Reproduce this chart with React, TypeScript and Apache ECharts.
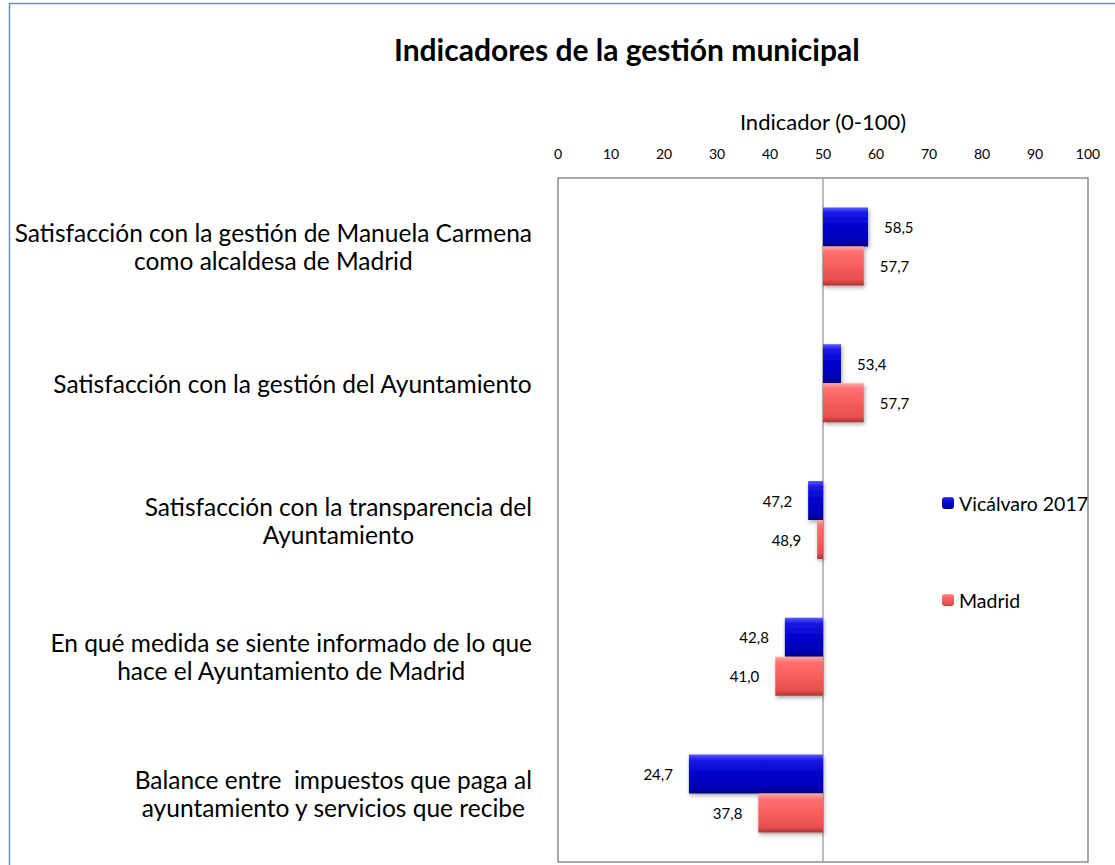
import React, { useEffect, useRef } from "react";
import * as echarts from "echarts";

const categories = [
  "Satisfacción con la gestión de Manuela Carmena\ncomo alcaldesa de Madrid",
  "Satisfacción con la gestión del Ayuntamiento",
  "Satisfacción con la transparencia del\nAyuntamiento",
  "En qué medida se siente informado de lo que\nhace el Ayuntamiento de Madrid",
  "Balance entre  impuestos que paga al\nayuntamiento y servicios que recibe",
];
const seriesNames = ["Vicálvaro 2017", "Madrid"];
const vicalvaro = [58.5, 53.4, 47.2, 42.8, 24.7];
const madrid = [57.7, 57.7, 48.9, 41.0, 37.8];
const baseline = 50;
const axisMin = 0;
const axisMax = 100;
const axisInterval = 10;

const FONT = "Lato";

const blueFill = new echarts.graphic.LinearGradient(0, 0, 0, 1, [
  { offset: 0, color: "#5a5aff" },
  { offset: 0.14, color: "#1a1ae8" },
  { offset: 0.5, color: "#0000cc" },
  { offset: 0.86, color: "#0000b4" },
  { offset: 1, color: "#00007a" },
]);
const redFill = new echarts.graphic.LinearGradient(0, 0, 0, 1, [
  { offset: 0, color: "#ffa8a8" },
  { offset: 0.14, color: "#ff7070" },
  { offset: 0.5, color: "#f85d5d" },
  { offset: 0.86, color: "#e84e4e" },
  { offset: 1, color: "#a83434" },
]);

const fmt = (v: number) => v.toFixed(1).replace(".", ",");

function buildSeries(name: string, values: number[], fill: any, stack: string, withMarkLine: boolean) {
  const base = values.map((v) => Math.min(v, baseline));
  const delta = values.map((v) => Math.abs(v - baseline));
  const baseSeries: any = {
    name: "_base_" + stack,
    type: "bar",
    stack,
    data: base,
    barWidth: 39,
    barGap: "0%",
    silent: true,
    itemStyle: { color: "rgba(0,0,0,0)" },
    label: { show: false },
    z: 1,
  };
  if (withMarkLine) {
    baseSeries.markLine = {
      silent: true,
      symbol: ["none", "none"],
      label: { show: false },
      lineStyle: { color: "#a6a6a6", width: 1.5, type: "solid" },
      data: [{ xAxis: baseline }],
      z: 1,
    };
  }
  const deltaSeries: any = {
    name,
    type: "bar",
    stack,
    barWidth: 39,
    barGap: "0%",
    z: 3,
    itemStyle: {
      color: fill,
      shadowBlur: 4,
      shadowColor: "rgba(0,0,0,0.35)",
      shadowOffsetY: 2,
      shadowOffsetX: 1,
    },
    data: delta.map((d, i) => ({
      value: d,
      label: {
        show: true,
        position: values[i] >= baseline ? "right" : "left",
        distance: 16,
        formatter: () => fmt(values[i]),
        fontFamily: FONT,
        fontSize: 15,
        color: "#000",
      },
    })),
  };
  return [baseSeries, deltaSeries];
}

export default function App() {
  const ref = useRef<HTMLDivElement>(null);
  useEffect(() => {
    if (!ref.current) return;
    const chart = echarts.init(ref.current, null, { renderer: "svg" });
    const option: any = {
      animation: false,
      backgroundColor: "#ffffff",
      textStyle: { fontFamily: FONT },
      title: {
        text: "Indicadores de la gestión municipal",
        left: 389,
        top: 29,
        textStyle: { fontFamily: FONT, fontSize: 30, fontWeight: "bold", color: "#000" },
      },
      graphic: [
        {
          type: "rect",
          left: 7,
          top: 1,
          shape: { width: 1200, height: 1000 },
          style: { fill: "none", stroke: "#6f8fc4", lineWidth: 1.5 },
          silent: true,
          z: -1,
        },
      ],
      legend: {
        orient: "vertical",
        left: 937,
        top: 488,
        itemWidth: 12,
        itemHeight: 12,
        itemGap: 77,
        data: seriesNames,
        textStyle: { fontFamily: FONT, fontSize: 19.5, color: "#000" },
      },
      grid: {
        left: 558,
        right: 27,
        top: 178,
        bottom: 3,
        show: true,
        borderColor: "#8c8c8c",
        borderWidth: 1.5,
        containLabel: false,
      },
      xAxis: {
        type: "value",
        position: "top",
        min: axisMin,
        max: axisMax,
        interval: axisInterval,
        name: "Indicador (0-100)",
        nameLocation: "middle",
        nameGap: 46,
        nameTextStyle: { fontFamily: FONT, fontSize: 22, color: "#000" },
        axisLine: { show: false },
        axisTick: { show: false },
        splitLine: { show: false },
        axisLabel: { fontFamily: FONT, fontSize: 14, color: "#000", margin: 18 },
      },
      yAxis: {
        type: "category",
        inverse: true,
        data: categories,
        axisLine: { show: false },
        axisTick: { show: false },
        splitLine: { show: false },
        axisLabel: {
          align: "right",
          margin: 26,
          formatter: (v: string) =>
            v
              .split("\n")
              .map((l) => `{c|${l}}`)
              .join("\n"),
          rich: {
            c: {
              align: "center",
              fontFamily: FONT,
              fontSize: 24.5,
              lineHeight: 28,
              color: "#000",
            },
          },
        },
      },
      series: [
        ...buildSeries(seriesNames[0], vicalvaro, blueFill, "v", true),
        ...buildSeries(seriesNames[1], madrid, redFill, "m", false),
      ],
    };
    chart.setOption(option);
    return () => chart.dispose();
  }, []);
  return (
    <div
      ref={ref}
      style={{ position: "absolute", left: 0, top: 0, width: 1115, height: 865 }}
    />
  );
}
